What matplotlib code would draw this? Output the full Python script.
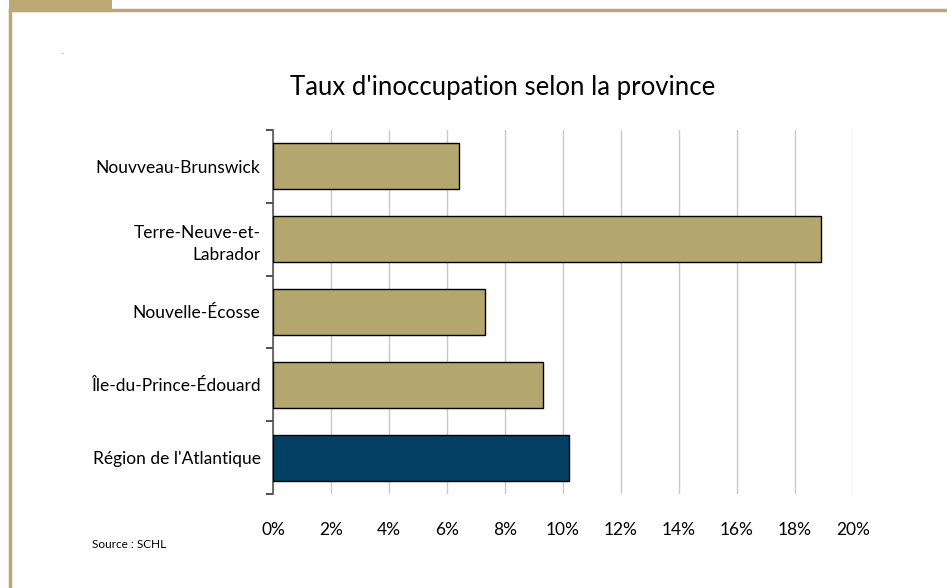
import numpy as np
import matplotlib.pyplot as plt
from matplotlib.patches import Rectangle
from matplotlib.lines import Line2D

provinces = ["Nouvveau-Brunswick", "Terre-Neuve-et-\nLabrador", "Nouvelle-Écosse",
             "Île-du-Prince-Édouard", "Région de l'Atlantique"]
taux = [6.4, 18.9, 7.3, 9.3, 10.2]
couleurs = ["#B3A66E", "#B3A66E", "#B3A66E", "#B3A66E", "#034063"]
xticks = [0, 2, 4, 6, 8, 10, 12, 14, 16, 18, 20]

plt.rcParams['font.family'] = ['Lato', 'DejaVu Sans']

fig = plt.figure(figsize=(9.47, 5.88), dpi=100)
W, H = 947, 588

# frame decoration (tan border + tab)
border = "#BBA872"
fig.add_artist(Rectangle((9 / W, 1 - 9 / H), 103 / W, 9 / H, transform=fig.transFigure,
                         facecolor=border, edgecolor='none'))
fig.add_artist(Line2D([9.5 / W, 1], [1 - 9.5 / H, 1 - 9.5 / H], transform=fig.transFigure,
                      color=border, lw=2.5))
fig.add_artist(Line2D([10 / W, 10 / W], [0, 1 - 9.5 / H], transform=fig.transFigure,
                      color=border, lw=2.5))

ax = fig.add_axes([273 / W, 1 - 494 / H, 580 / W, 364 / H])
y = np.arange(len(provinces))
ax.barh(y, taux, height=0.63, color=couleurs, edgecolor='black', linewidth=1, zorder=3)
ax.set_ylim(len(provinces) - 0.5, -0.5)
ax.set_xlim(0, 20)
ax.set_xticks(xticks)
ax.set_xticklabels([f"{v}%" for v in xticks], fontsize=12.5)
ax.tick_params(axis='x', length=0, pad=20)
ax.set_yticks(y)
ax.set_yticklabels(provinces, fontsize=12.5, ha='right', multialignment='right',
                   linespacing=1.5)
ax.tick_params(axis='y', length=0, pad=9)
ax.set_yticks(np.arange(len(provinces) + 1) - 0.5, minor=True)
ax.tick_params(axis='y', which='minor', length=5, width=1.2, color='#333333')
ax.xaxis.grid(True, color='#C8C8C8', lw=1, zorder=0)
for s in ['top', 'right', 'bottom']:
    ax.spines[s].set_visible(False)
ax.spines['left'].set_color('#555555')
ax.spines['left'].set_linewidth(1.2)

fig.text(503 / W, 1 - 88 / H, "Taux d'inoccupation selon la province", fontsize=18.5,
         ha='center', va='center')
fig.text(92 / W, 1 - 545 / H, "Source : SCHL", fontsize=8.5, ha='left', va='center')
fig.text(62 / W, 1 - 52 / H, ".", fontsize=5, ha='left', va='center', color='#555555')

fig.savefig("out.png", dpi=100)
